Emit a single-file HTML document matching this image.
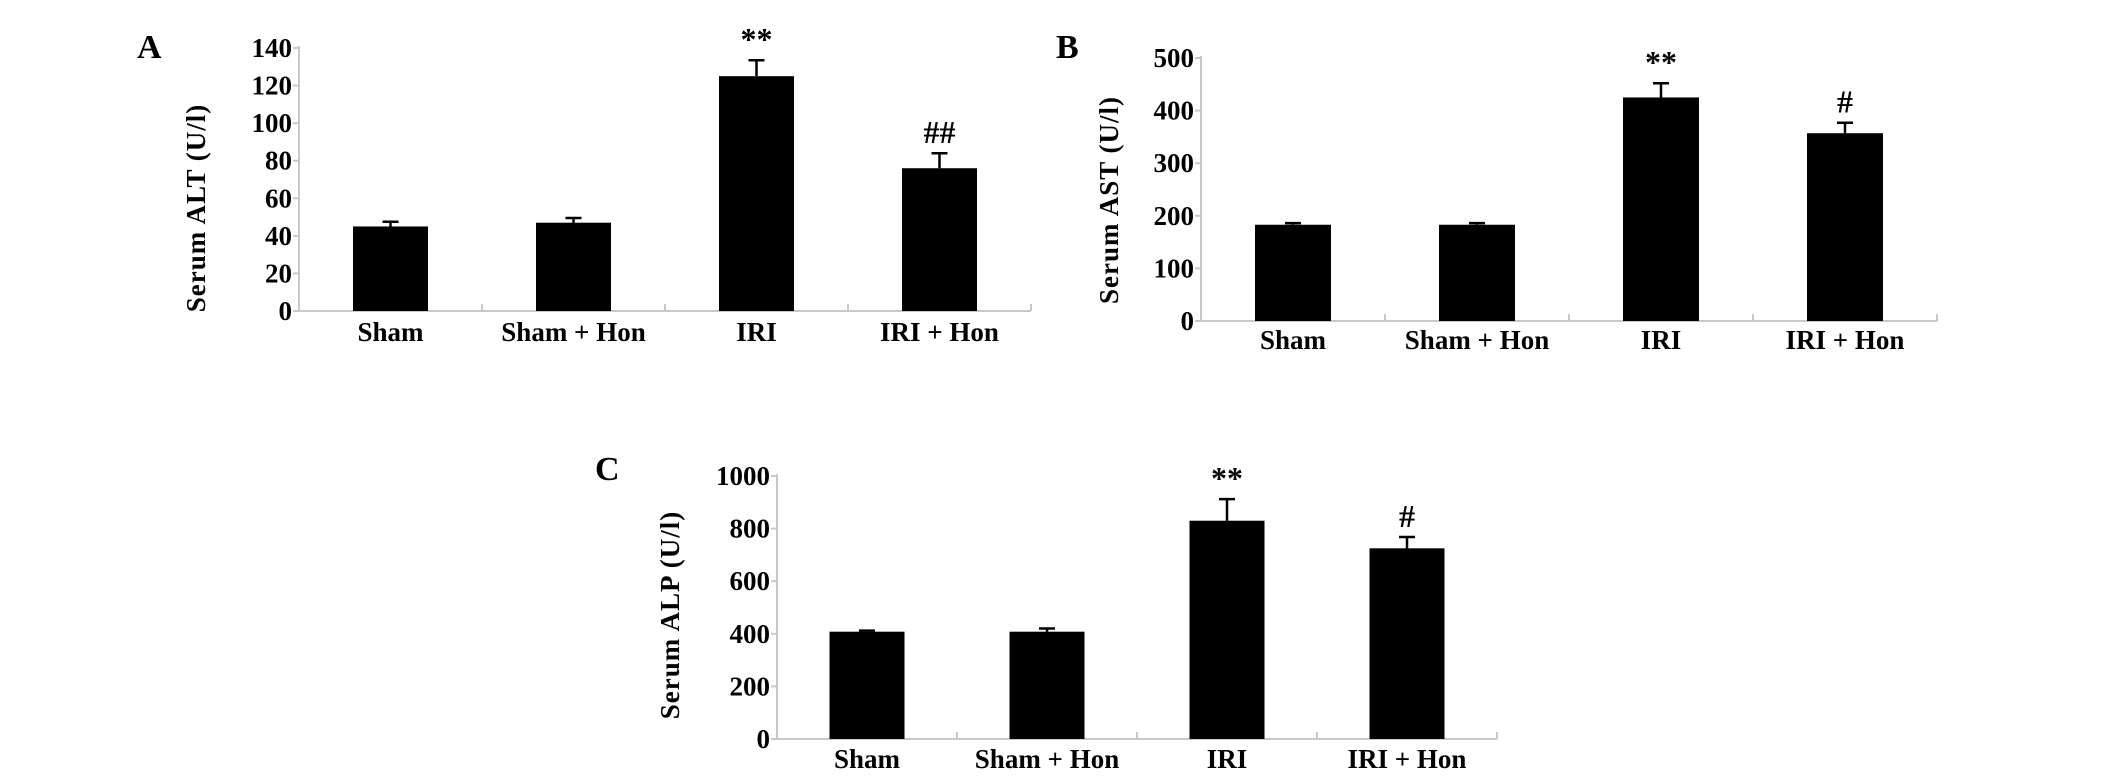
<!DOCTYPE html>
<html><head><meta charset="utf-8">
<style>
html,body{margin:0;padding:0;background:#fff;}
svg{display:block;}
text{font-family:"Liberation Serif",serif;font-weight:bold;fill:#000;}
</style></head>
<body>
<svg id="fig" width="2126" height="780" viewBox="0 0 2126 780" xmlns="http://www.w3.org/2000/svg"></svg>
<script>
const categories = ["Sham", "Sham + Hon", "IRI", "IRI + Hon"];
const altValues = [45, 47, 125, 76];
const altErrors = [2.5, 2.5, 8.5, 8];
const altMarks = ["", "", "**", "##"];
const altTicks = [0, 20, 40, 60, 80, 100, 120, 140];
const astValues = [183, 183, 425, 357];
const astErrors = [3, 3, 27, 20];
const astMarks = ["", "", "**", "#"];
const astTicks = [0, 100, 200, 300, 400, 500];
const alpValues = [408, 408, 830, 725];
const alpErrors = [4, 12, 82, 43];
const alpMarks = ["", "", "**", "#"];
const alpTicks = [0, 200, 400, 600, 800, 1000];

const NS = "http://www.w3.org/2000/svg";
const svg = document.getElementById("fig");
function mk(tag, attrs, parent) {
  const e = document.createElementNS(NS, tag);
  for (const k in attrs) e.setAttribute(k, attrs[k]);
  (parent || svg).appendChild(e);
  return e;
}

function panel(p) {
  const g = mk("g", {});
  
  
  const ymax = p.ticks[p.ticks.length - 1];
  const yS = v => p.y0 - (v / ymax) * (p.y0 - p.yTop);
  const catW = p.catW;
  const xC = i => p.x0 + catW * (i + 0.5);
  const L = mk("text", {x: p.lx, y: p.ly, "font-size": 34}, g);
  L.textContent = p.letter;
  
  
  const t = mk("text", {x: 0, y: 0, "font-size": 27, "text-anchor": "middle", "letter-spacing": "1",
    transform: "translate(" + p.tx + "," + p.ty + ") rotate(-90)"}, g);
  t.textContent = p.title;
  
  
  const ax = mk("line", {x1: p.x0, y1: p.yTop - 2, x2: p.x0, y2: p.y0, stroke: "#c8c8c8", "stroke-width": 2}, g);
  
  
  const xa = mk("line", {x1: p.x0, y1: p.y0, x2: p.x0 + catW * categories.length, y2: p.y0, stroke: "#c8c8c8", "stroke-width": 2}, g);
  
  
  p.ticks.forEach(v => {
    const y = yS(v);
    mk("line", {x1: p.x0 - 6, y1: y, x2: p.x0, y2: y, stroke: "#c8c8c8", "stroke-width": 2}, g);
    const tl = mk("text", {x: p.x0 - 7, y: y + 9, "font-size": 27, "text-anchor": "end"}, g);
    tl.textContent = v;
    
    
  });
  for (let i = 1; i <= categories.length; i++) {
    const x = p.x0 + catW * i;
    mk("line", {x1: x, y1: p.y0 - 7, x2: x, y2: p.y0, stroke: "#c8c8c8", "stroke-width": 2}, g);
  }
  categories.forEach((c, i) => {
    const cx = xC(i);
    const yv = yS(p.values[i]);
    const b = mk("rect", {x: cx - p.barW / 2, y: yv, width: p.barW, height: p.y0 - yv, fill: "#000"}, g);
    
    
    const ye = yS(p.values[i] + p.errors[i]);
    const eb = mk("path", {d: "M" + cx + " " + yv + "V" + ye + "M" + (cx - 8) + " " + ye + "H" + (cx + 8), stroke: "#000", "stroke-width": 2.5, fill: "none"}, g);
    
    
    if (p.marks[i]) {
      const m = mk("text", {x: cx, y: ye - 10, "font-size": 32, "font-weight": "normal", "text-anchor": "middle"}, g);
      m.textContent = p.marks[i];
      
      
    }
    const cl = mk("text", {x: cx, y: p.cy, "font-size": 27, "text-anchor": "middle"}, g);
    cl.textContent = c;
    
    
  });
}

panel({name: "panel-a-alt-chart", letter: "A", lx: 137, ly: 58, title: "Serum ALT (U/l)", tx: 205, ty: 208,
  x0: 299, y0: 311, yTop: 48, catW: 183, barW: 75, ticks: altTicks, values: altValues, errors: altErrors, marks: altMarks, cy: 341});
panel({name: "panel-b-ast-chart", letter: "B", lx: 1056, ly: 58, title: "Serum AST (U/l)", tx: 1118, ty: 200,
  x0: 1201, y0: 321, yTop: 58, catW: 184, barW: 76, ticks: astTicks, values: astValues, errors: astErrors, marks: astMarks, cy: 349});
panel({name: "panel-c-alp-chart", letter: "C", lx: 595, ly: 480, title: "Serum ALP (U/l)", tx: 679, ty: 615,
  x0: 777, y0: 739, yTop: 476, catW: 180, barW: 75, ticks: alpTicks, values: alpValues, errors: alpErrors, marks: alpMarks, cy: 768});
</script>
</body></html>
